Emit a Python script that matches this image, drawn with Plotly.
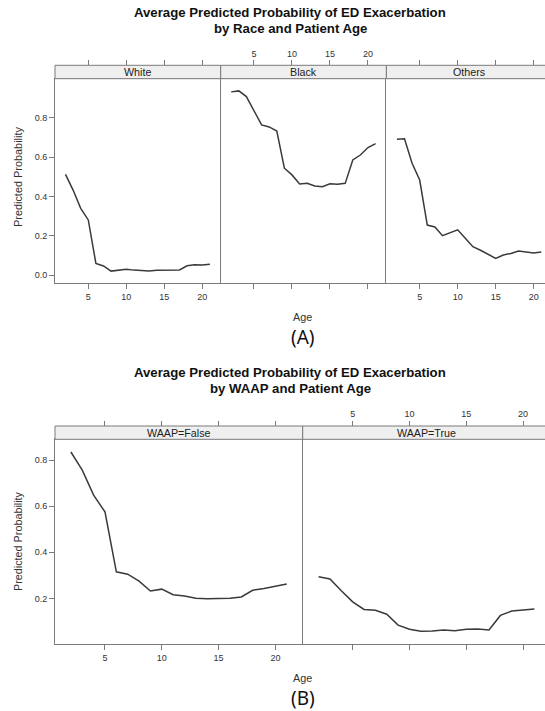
import plotly.graph_objects as go

# ---------------- data ----------------
ages = list(range(2, 22))
white = [0.512, 0.432, 0.339, 0.280, 0.059, 0.046, 0.020, 0.024, 0.030, 0.025,
         0.024, 0.021, 0.024, 0.024, 0.026, 0.026, 0.047, 0.052, 0.051, 0.055]
black = [0.931, 0.936, 0.907, 0.836, 0.763, 0.753, 0.732, 0.543, 0.509, 0.463,
         0.466, 0.453, 0.449, 0.464, 0.461, 0.466, 0.585, 0.610, 0.648, 0.668]
others = [0.690, 0.693, 0.568, 0.483, 0.254, 0.244, 0.200, 0.217, 0.230, 0.187,
          0.144, 0.126, 0.105, 0.085, 0.102, 0.110, 0.122, 0.117, 0.112, 0.117]
waap_false = [0.835, 0.756, 0.648, 0.575, 0.315, 0.305, 0.275, 0.232, 0.240, 0.216,
              0.210, 0.201, 0.198, 0.198, 0.200, 0.206, 0.235, 0.243, 0.253, 0.262]
waap_true = [0.294, 0.284, 0.233, 0.185, 0.152, 0.148, 0.131, 0.084, 0.066, 0.057,
             0.058, 0.063, 0.060, 0.066, 0.067, 0.063, 0.126, 0.145, 0.149, 0.154]

race_labels = ["White", "Black", "Others"]
waap_labels = ["WAAP=False", "WAAP=True"]
x_ticks = [5, 10, 15, 20]
yA_ticks = [0.0, 0.2, 0.4, 0.6, 0.8]
yB_ticks = [0.2, 0.4, 0.6, 0.8]

title_line1 = "Average Predicted Probability of ED Exacerbation"
titleA_line2 = "by Race and Patient Age"
titleB_line2 = "by WAAP and Patient Age"

# ---------------- geometry (pixels) ----------------
W, H = 545, 711
def fx(p): return p / W
def fy(p): return 1 - p / H

FONT = "Liberation Sans, Arial, sans-serif"
LINE = "#7a7a7a"
TXT = "#333333"
CURVE = "#3a3a3a"

fig = go.Figure()

axis_common = dict(showgrid=False, zeroline=False, linecolor=LINE, linewidth=1,
                   tickcolor=LINE, ticklen=5, tickwidth=1,
                   tickfont=dict(size=9, color=TXT, family=FONT), fixedrange=True)

layout = dict(width=W, height=H, margin=dict(l=0, r=0, t=0, b=0),
              paper_bgcolor="white", plot_bgcolor="white", showlegend=False,
              font=dict(family=FONT, color=TXT))

shapes, annotations = [], []

def add_block(series, labels, left, width_full, px_per_unit, xmin, plot_top, plot_bot,
              strip_top, yrange, yticks, axis_start, top_label_idx):
    for i, (vals, lab) in enumerate(zip(series, labels)):
        k = axis_start + i           # main axis index
        kt = axis_start + 10 + i     # top overlay axis index
        l = left + i * width_full
        r_full = l + width_full
        r = min(r_full, W)
        xmax = xmin + (r - l) / px_per_unit
        xa = "x" if k == 1 else f"x{k}"
        ya = "y" if k == 1 else f"y{k}"
        xt = f"x{kt}"
        fig.add_trace(go.Scatter(x=ages, y=vals, mode="lines",
                                 line=dict(color=CURVE, width=1.5),
                                 xaxis=xa, yaxis=ya, hoverinfo="skip"))
        fig.add_trace(go.Scatter(x=ages, y=vals, mode="lines", opacity=0,
                                 line=dict(width=0.1), xaxis=xt, yaxis=ya,
                                 hoverinfo="skip"))
        dom = [fx(l), fx(r)]
        xkey = "xaxis" if k == 1 else f"xaxis{k}"
        ykey = "yaxis" if k == 1 else f"yaxis{k}"
        layout[xkey] = dict(axis_common, domain=dom, anchor=ya, range=[xmin, xmax],
                            tickvals=x_ticks, ticks="outside", showline=True, mirror=True,
                            showticklabels=(i != top_label_idx))
        layout[f"xaxis{kt}"] = dict(axis_common, domain=dom, overlaying=xa, side="top",
                                    anchor="free", position=fy(strip_top),
                                    range=[xmin, xmax], tickvals=x_ticks, ticks="outside",
                                    showline=False, showticklabels=(i == top_label_idx))
        first = (i == 0)
        layout[ykey] = dict(axis_common, domain=[fy(plot_bot), fy(plot_top)], anchor=xa,
                            range=yrange, showline=True, mirror=False,
                            tickvals=yticks if first else [],
                            ticktext=[f"{v:.1f}" for v in yticks] if first else [],
                            ticks="outside" if first else "",
                            showticklabels=first)
        shapes.append(dict(type="rect", xref="paper", yref="paper",
                           x0=fx(l), x1=fx(r_full + 2) if r_full > W else fx(r_full),
                           y0=fy(plot_top), y1=fy(strip_top),
                           fillcolor="#EFEFEF", line=dict(color=LINE, width=1)))
        annotations.append(dict(text=lab, xref="paper", yref="paper",
                                x=fx((l + r_full) / 2), y=fy((strip_top + plot_top) / 2),
                                xanchor="center", yanchor="middle", showarrow=False,
                                font=dict(size=10.7, color="#222222", family=FONT)))

# Panel A
add_block([white, black, others], race_labels, left=55, width_full=165.7,
          px_per_unit=7.6, xmin=0.62, plot_top=78.7, plot_bot=283.3, strip_top=65.3,
          yrange=[-0.042, 0.998], yticks=yA_ticks, axis_start=1, top_label_idx=1)
# Panel B
add_block([waap_false, waap_true], waap_labels, left=55, width_full=247.7,
          px_per_unit=11.36, xmin=0.6, plot_top=439.3, plot_bot=644.0, strip_top=426.0,
          yrange=[0.002, 0.89], yticks=yB_ticks, axis_start=4, top_label_idx=1)

def txt(text, x, y, size, bold=False, family=FONT, angle=0, color="#111111"):
    annotations.append(dict(text=f"<b>{text}</b>" if bold else text,
                            xref="paper", yref="paper", x=fx(x), y=fy(y),
                            xanchor="center", yanchor="middle", showarrow=False,
                            textangle=angle, font=dict(size=size, family=family, color=color)))

# titles
txt(title_line1, 290, 12.7, 13.2, bold=True)
txt(titleA_line2, 290, 28.3, 13.2, bold=True)
txt(title_line1, 290, 372.9, 13.2, bold=True)
txt(titleB_line2, 290, 388.5, 13.2, bold=True)
# axis labels
txt("Predicted Probability", 18, 177, 10.9, angle=-90, color=TXT)
txt("Predicted Probability", 18, 541, 10.8, angle=-90, color=TXT)
txt("Age", 302, 316.7, 10.8, color=TXT)
txt("Age", 302, 677.5, 10.8, color=TXT)
# panel tags
txt("(A)", 303, 337, 19, family="Noto Sans, Open Sans, sans-serif", color="#111111")
txt("(B)", 303, 698, 19, family="Noto Sans, Open Sans, sans-serif", color="#111111")

layout["shapes"] = shapes
layout["annotations"] = annotations
fig.update_layout(**layout)
fig.write_html("out.html")
